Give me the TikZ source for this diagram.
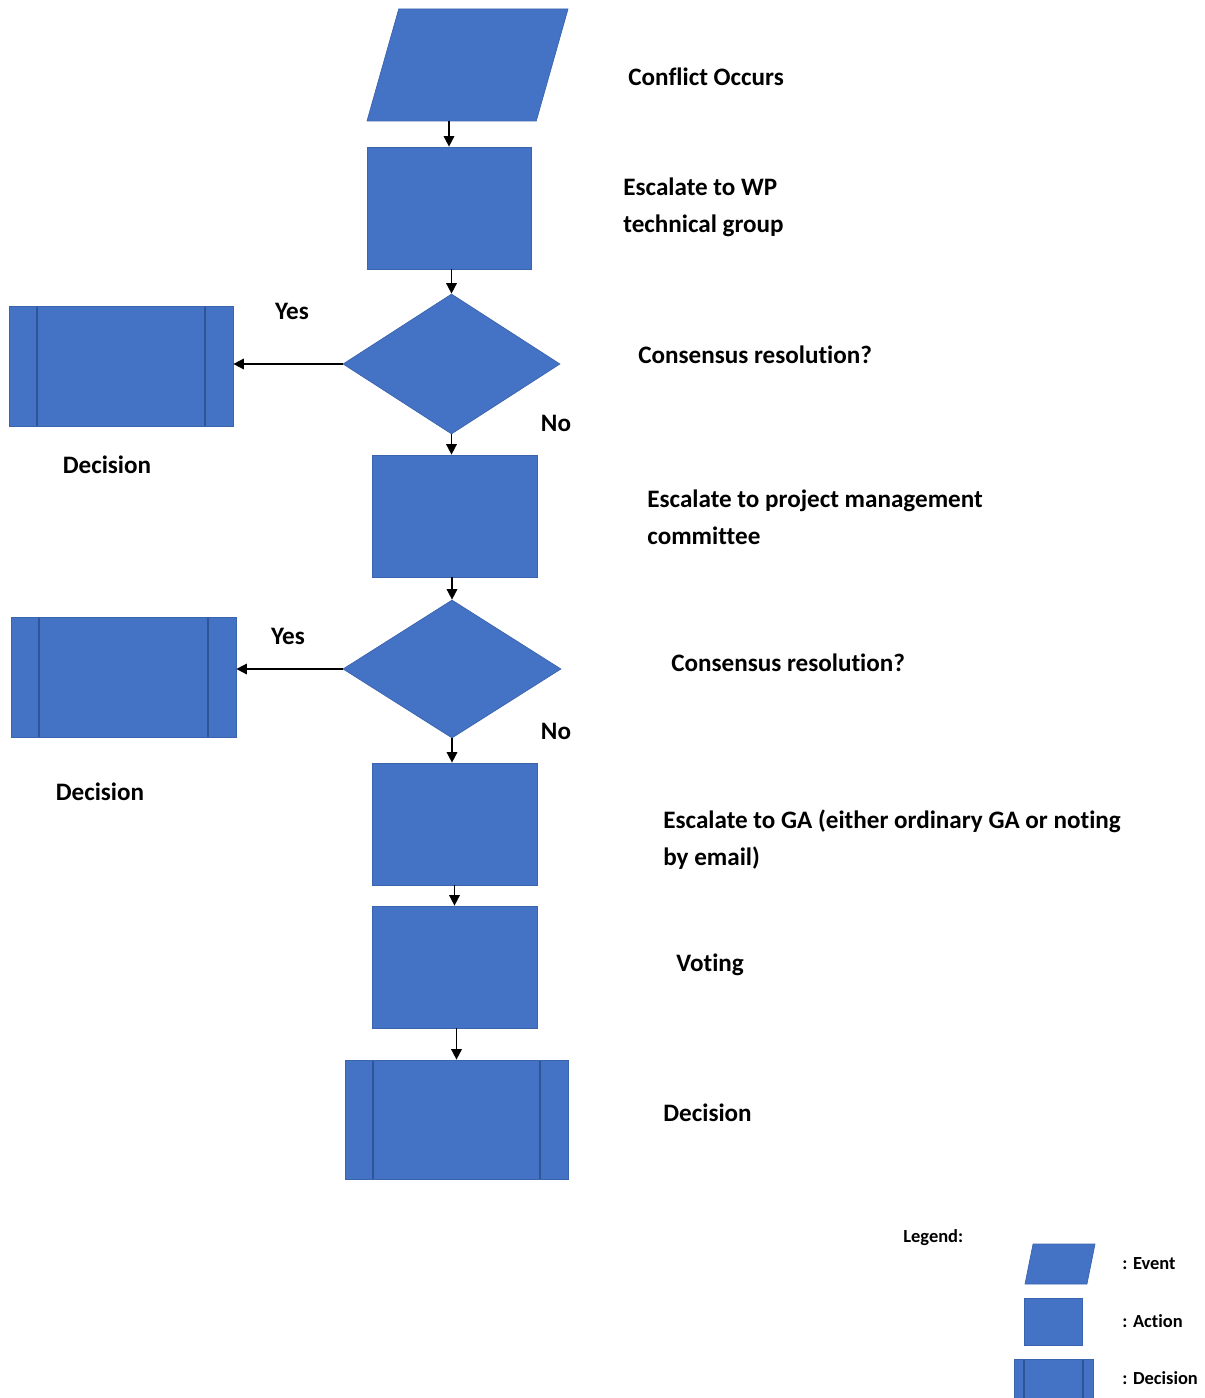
\documentclass[tikz,border=0pt]{standalone}
\usepackage{fontspec}
\setmainfont{Carlito}[Ligatures=NoCommon]
\usetikzlibrary{arrows.meta,shapes.geometric}
\definecolor{flowblue}{HTML}{4472C4}
\definecolor{flowedge}{HTML}{3B64AE}
\definecolor{flowline}{HTML}{2F5597}
\def\px{0.02cm}

\begin{document}
\begin{tikzpicture}[x=0.02cm,y=-0.02cm,>={Triangle[length=2.1mm,width=2.1mm]},
  txt/.style={font=\fontsize{14.3}{21}\selectfont\bfseries,anchor=west,align=left,inner sep=0pt},
  ans/.style={font=\fontsize{14.3}{15}\selectfont\bfseries,inner sep=0pt},
  lgd/.style={font=\fontsize{10.5}{12}\selectfont\bfseries,anchor=west,inner sep=0pt},
  box/.style={fill=flowblue,draw=flowedge,line width=0.4pt,inner sep=0pt},
  act/.style={box,rectangle,minimum width=#1*\px},
  act/.default=165,
  evt/.style={box,trapezium,trapezium stretches=true,inner sep=1pt},
  dia/.style={box,diamond},
  dec/.style={box,rectangle,path picture={
      \draw[flowline,line width=0.6pt]
        ([xshift=#1*\px]path picture bounding box.north west) --
        ([xshift=#1*\px]path picture bounding box.south west);
      \draw[flowline,line width=0.6pt]
        ([xshift=-#1*\px]path picture bounding box.north east) --
        ([xshift=-#1*\px]path picture bounding box.south east);}},
  conn/.style={line width=0.9pt,->},
]
\useasboundingbox (0,0) rectangle (1204,1398);

% ============================================================
% Main flow
% ============================================================
\node[evt,trapezium left angle=77,trapezium right angle=103,
  minimum width=201*\px,minimum height=112*\px] (conflict) at (467.5,65) {};
\node[act=164,minimum height=122*\px] (wpgroup) at (449,208) {};
\node[dia,minimum width=217*\px,minimum height=140*\px] (cons1) at (451.5,364) {};
\node[act,minimum height=122*\px] (pmc) at (454.5,516) {};
\node[dia,minimum width=218*\px,minimum height=138*\px] (cons2) at (452,669) {};
\node[act,minimum height=122*\px] (ga) at (454.5,824) {};
\node[act,minimum height=122*\px] (voting) at (454.5,967) {};
\node[dec=28,minimum width=223*\px,minimum height=119*\px] (final) at (456.5,1119.5) {};

% Side decisions
\node[dec=28,minimum width=224*\px,minimum height=120*\px] (dec1) at (121,366) {};
\node[dec=28,minimum width=225*\px,minimum height=120*\px] (dec2) at (123.5,677) {};

% Connectors
\draw[conn] (wpgroup.north |- conflict.south) -- (wpgroup.north);
\draw[conn] (cons1.north |- wpgroup.south) -- (cons1.north);
\draw[conn] (cons1.west) -- (dec1.east |- cons1.west);
\draw[conn] (cons1.south) -- (cons1.south |- pmc.north);
\draw[conn] (cons2.north |- pmc.south) -- (cons2.north);
\draw[conn] (cons2.west) -- (dec2.east |- cons2.west);
\draw[conn] (cons2.south) -- (cons2.south |- ga.north);
\draw[conn] (ga.south) -- (voting.north);
\draw[conn] (final.north |- voting.south) -- (final.north);

% Answers
\node[ans] (yes1) at (292,311) {Yes};
\node[ans] (no1) at (556,423) {No};
\node[ans] (lbldec1) at (107,465) {Decision};
\node[ans] (yes2) at (288,636) {Yes};
\node[ans] (no2) at (556,731) {No};
\node[ans] (lbldec2) at (100,792) {Decision};

% Step descriptions
\node[txt] (t1) at (628,77) {Conflict Occurs};
\node[txt] (t2) at (623,207) {Escalate to WP\\technical group};
\node[txt] (t3) at (638,355) {Consensus resolution?};
\node[txt] (t4) at (647,517) {Escalate to project management\\committee};
\node[txt] (t5) at (671,663) {Consensus resolution?};
\node[txt] (t6) at (663,840) {Escalate to GA (either ordinary GA or noting\\by email)};
\node[txt] (t7) at (676,965) {Voting};
\node[txt] (t8) at (663,1113) {Decision};

% ============================================================
% Legend
% ============================================================
\node[lgd] (legend) at (903,1238) {Legend:};
\node[evt,trapezium left angle=81.5,trapezium right angle=98.5,
  minimum width=70*\px,minimum height=40*\px] (lgevt) at (1060,1264) {};
\node[act=58,minimum height=47*\px] (lgact) at (1053,1321.5) {};
\node[dec=10,minimum width=79*\px,minimum height=50*\px] (lgdec) at (1053.5,1384) {};
\node[lgd] (lgevttxt) at (1122,1264) {: Event};
\node[lgd] (lgacttxt) at (1122,1321) {: Action};
\node[lgd] (lgdectxt) at (1122,1378) {: Decision};
\end{tikzpicture}
\end{document}
